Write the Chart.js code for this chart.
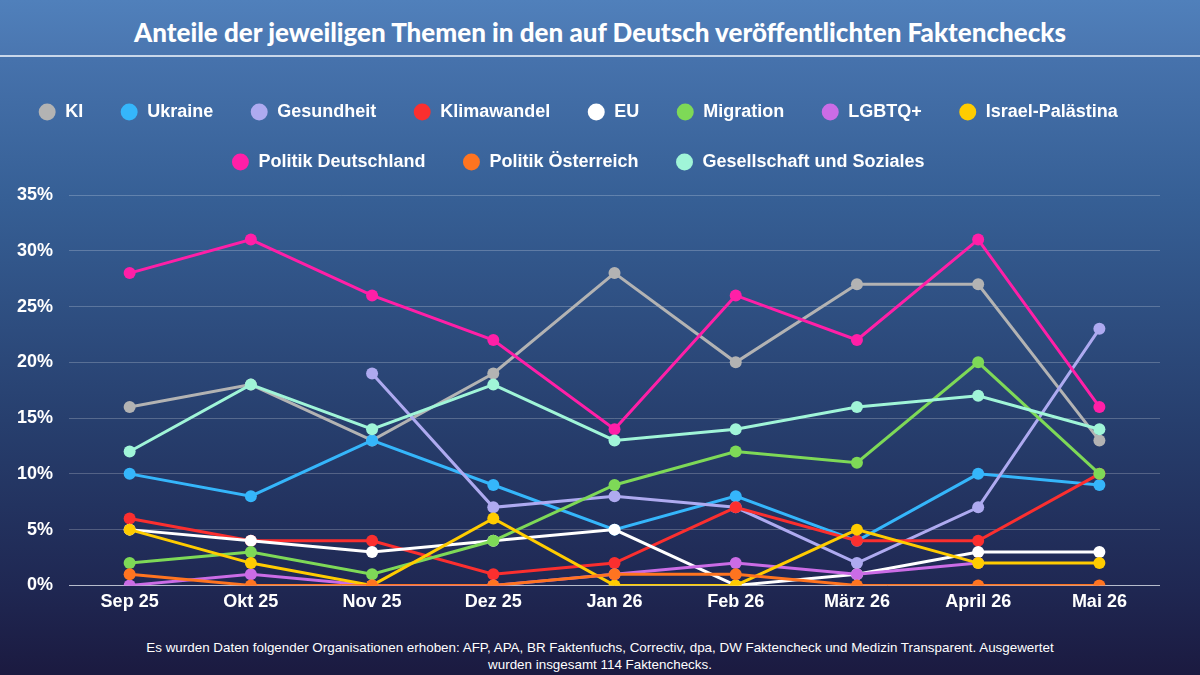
<!DOCTYPE html>
<html>
<head>
<meta charset="utf-8">
<script src="https://cdn.jsdelivr.net/npm/chart.js@4.4.1/dist/chart.umd.min.js"></script>
<style>
  html, body { margin: 0; padding: 0; }
  body {
    width: 1200px; height: 675px; overflow: hidden; position: relative;
    background: linear-gradient(to bottom, #4b79b3 0px, #4672ac 60px, #365f95 200px, #273f6e 420px, #1f2752 590px, #1b1a40 675px);
    font-family: "Liberation Sans", Arial, sans-serif;
  }
  #title {
    position: absolute; left: 0; top: 0; width: 1200px; height: 55px;
    background: linear-gradient(to bottom, #5080bb, #4a76b0);
    color: #fff; text-align: center; line-height: 64px;
    font-family: "Lato", sans-serif; font-weight: 900; font-size: 26px;
    border-bottom: 2px solid #c9d7ea;
  }
  #wrap { position: absolute; left: 0; top: 71px; width: 1200px; height: 548px; }
  #footer {
    position: absolute; left: 0; top: 639px; width: 1200px; text-align: center;
    color: #fff; font-size: 13.4px; line-height: 17px;
    font-family: "Liberation Sans", Arial, sans-serif;
  }
</style>
</head>
<body>
<div id="title">Anteile der jeweiligen Themen in den auf Deutsch veröffentlichten Faktenchecks</div>
<div id="wrap"><canvas id="c" width="1200" height="548"></canvas></div>
<div id="footer">Es wurden Daten folgender Organisationen erhoben: AFP, APA, BR Faktenfuchs, Correctiv, dpa, DW Faktencheck und Medizin Transparent. Ausgewertet<br>wurden insgesamt 114 Faktenchecks.</div>
<script>
const months = ["Sep 25", "Okt 25", "Nov 25", "Dez 25", "Jan 26", "Feb 26", "März 26", "April 26", "Mai 26"];
const yTicks = [0, 5, 10, 15, 20, 25, 30, 35];

const ki = [16, 18, 13, 19, 28, 20, 27, 27, 13];
const ukraine = [10, 8, 13, 9, 5, 8, 4, 10, 9];
const gesundheit = [null, null, 19, 7, 8, 7, 2, 7, 23];
const klimawandel = [6, 4, 4, 1, 2, 7, 4, 4, 10];
const eu = [5, 4, 3, 4, 5, 0, 1, 3, 3];
const migration = [2, 3, 1, 4, 9, 12, 11, 20, 10];
const lgbtq = [0, 1, 0, 0, 1, 2, 1, 2, null];
const israel = [5, 2, 0, 6, 0, 0, 5, 2, 2];
const politikDE = [28, 31, 26, 22, 14, 26, 22, 31, 16];
const politikAT = [1, 0, 0, 0, 1, 1, 0, 0, 0];
const gesellschaft = [12, 18, 14, 18, 13, 14, 16, 17, 14];

const series = [
  ["KI", ki, "#b3b3b3"],
  ["Ukraine", ukraine, "#35b6fb"],
  ["Gesundheit", gesundheit, "#aeaaf0"],
  ["Klimawandel", klimawandel, "#fb2f2f"],
  ["EU", eu, "#ffffff"],
  ["Migration", migration, "#7ed957"],
  ["LGBTQ+", lgbtq, "#cb6ce6"],
  ["Israel-Palästina", israel, "#ffcc00"],
  ["Politik Deutschland", politikDE, "#ff1fa7"],
  ["Politik Österreich", politikAT, "#ff7420"],
  ["Gesellschaft und Soziales", gesellschaft, "#a0f5d8"]
];

const datasets = series.map(([label, data, color], i) => ({
  label, data,
  borderColor: color, backgroundColor: color,
  pointBackgroundColor: color, pointBorderColor: color,
  borderWidth: 3, pointRadius: 6, pointHoverRadius: 6, pointBorderWidth: 0,
  tension: 0, spanGaps: false,
  order: series.length - i
}));

const legendSpacing = {
  id: "legendSpacing",
  beforeInit(chart) {
    const legend = chart.legend;
    const origFit = legend.fit;
    legend.fit = function () {
      origFit.call(this);
      this.height += 14;
    };
  }
};

const defaultLabels = Chart.defaults.plugins.legend.labels.generateLabels;

new Chart(document.getElementById("c"), {
  type: "line",
  data: { labels: months, datasets },
  plugins: [legendSpacing],
  options: {
    responsive: false, animation: false,
    layout: { padding: { left: 1, right: 40, top: 0, bottom: 0 } },
    plugins: {
      tooltip: { enabled: false },
      legend: {
        position: "top",
        labels: {
          color: "#ffffff",
          font: { family: "Liberation Sans", size: 18, weight: "bold" },
          usePointStyle: true, pointStyle: "circle",
          boxWidth: 18, boxHeight: 12,
          padding: 32,
          generateLabels: (chart) => defaultLabels(chart).map(l => Object.assign(l, { text: l.text + "\u00A0" })),
          sort: (a, b) => a.datasetIndex - b.datasetIndex
        }
      }
    },
    scales: {
      x: {
        offset: true,
        grid: { display: false, drawTicks: false },
        border: { display: false },
        ticks: { color: "#ffffff", font: { family: "Liberation Sans", size: 18, weight: "bold" }, padding: 6 }
      },
      y: {
        min: 0, max: 35,
        afterBuildTicks: (axis) => { axis.ticks = yTicks.map(v => ({ value: v })); },
        grid: {
          drawTicks: false,
          color: (ctx) => ctx.tick && ctx.tick.value === 0 ? "rgba(220,225,235,0.8)" : "rgba(255,255,255,0.22)",
          lineWidth: 1
        },
        border: { display: false },
        ticks: {
          color: "#ffffff", font: { family: "Liberation Sans", size: 18, weight: "bold" }, padding: 16,
          callback: (v) => v + "%"
        }
      }
    }
  }
});
</script>
</body>
</html>
